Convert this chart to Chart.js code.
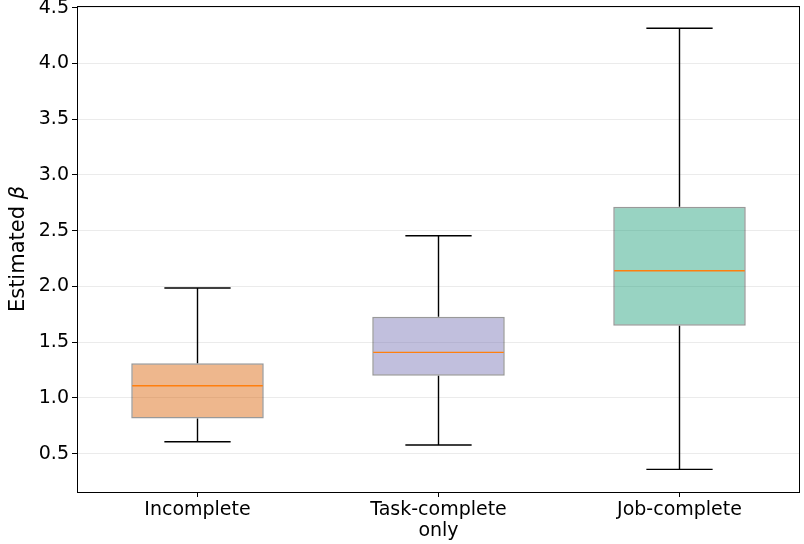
<!DOCTYPE html>
<html>
<head>
<meta charset="utf-8">
<script src="https://cdn.jsdelivr.net/npm/chart.js@4.4.1/dist/chart.umd.min.js"></script>
<style>
  html, body { margin: 0; padding: 0; background: #fff; }
  #wrap { width: 804px; height: 544px; }
</style>
</head>
<body>
<div id="wrap"><canvas id="boxChart" width="804" height="544"></canvas></div>
<script>
// groups and box statistics for estimated beta
const groups = [["Incomplete"], ["Task-complete", "only"], ["Job-complete"]];
const whiskerLow = [0.607, 0.578, 0.36];
const q1 = [0.817, 1.199, 1.648];
const median = [1.11, 1.409, 2.141];
const q3 = [1.311, 1.728, 2.715];
const whiskerHigh = [1.986, 2.455, 4.315];
const yTicks = [0.5, 1.0, 1.5, 2.0, 2.5, 3.0, 3.5, 4.0, 4.5];

const boxColors = ["rgba(217,95,2,0.45)", "rgba(117,112,179,0.45)", "rgba(27,158,119,0.45)"];

// whiskers, caps, medians, the frame and the y title with an italic beta
const boxExtras = {
  id: "boxExtras",
  afterDatasetsDraw(chart) {
    const ctx = chart.ctx;
    const x = chart.scales.x;
    const y = chart.scales.y;
    const bars = chart.getDatasetMeta(0).data;
    ctx.save();
    bars.forEach((bar, i) => {
      const cx = x.getPixelForValue(i);
      const half = bar.width / 2;
      const cap = bar.width / 4;
      ctx.strokeStyle = "#000";
      ctx.lineWidth = 1.4;
      ctx.beginPath();
      ctx.moveTo(cx, y.getPixelForValue(whiskerLow[i]));
      ctx.lineTo(cx, y.getPixelForValue(q1[i]));
      ctx.moveTo(cx, y.getPixelForValue(q3[i]));
      ctx.lineTo(cx, y.getPixelForValue(whiskerHigh[i]));
      ctx.moveTo(cx - cap, y.getPixelForValue(whiskerLow[i]));
      ctx.lineTo(cx + cap, y.getPixelForValue(whiskerLow[i]));
      ctx.moveTo(cx - cap, y.getPixelForValue(whiskerHigh[i]));
      ctx.lineTo(cx + cap, y.getPixelForValue(whiskerHigh[i]));
      ctx.stroke();
      ctx.strokeStyle = "#ff7f0e";
      ctx.lineWidth = 1.4;
      ctx.beginPath();
      ctx.moveTo(cx - half + 1, y.getPixelForValue(median[i]));
      ctx.lineTo(cx + half - 1, y.getPixelForValue(median[i]));
      ctx.stroke();
    });
    const a = chart.chartArea;
    ctx.strokeStyle = "#000";
    ctx.lineWidth = 1;
    ctx.strokeRect(a.left + 0.5, a.top + 0.5, a.right - a.left - 1, a.bottom - a.top);

    // y axis title
    const word = "Estimated ";
    const sym = "β";
    ctx.fillStyle = "#000";
    ctx.textBaseline = "middle";
    ctx.textAlign = "left";
    ctx.font = "21px 'DejaVu Sans'";
    const w1 = ctx.measureText(word).width;
    ctx.font = "italic 21px 'DejaVu Sans'";
    const w2 = ctx.measureText(sym).width;
    ctx.translate(19, (a.top + a.bottom) / 2);
    ctx.rotate(-Math.PI / 2);
    const start = -(w1 + w2) / 2;
    ctx.font = "21px 'DejaVu Sans'";
    ctx.fillText(word, start, 0);
    ctx.font = "italic 21px 'DejaVu Sans'";
    ctx.fillText(sym, start + w1, 0);
    ctx.restore();
  }
};

const ctx = document.getElementById("boxChart");
new Chart(ctx, {
  type: "bar",
  data: {
    labels: groups,
    datasets: [{
      data: groups.map((g, i) => [q1[i], q3[i]]),
      backgroundColor: boxColors,
      borderColor: "rgba(0,0,0,0.4)",
      borderWidth: 1.5,
      borderSkipped: false,
      barPercentage: 0.55,
      categoryPercentage: 1
    }]
  },
  options: {
    responsive: false,
    animation: false,
    layout: { padding: { left: 0, right: 4, top: 6, bottom: 0 } },
    plugins: { legend: { display: false }, tooltip: { enabled: false } },
    scales: {
      x: {
        offset: true,
        grid: { display: true, offset: false, drawOnChartArea: false, tickLength: 5, tickColor: "#000" },
        border: { display: false },
        ticks: { color: "#000", padding: 2, font: { family: "DejaVu Sans", size: 19, lineHeight: 1.12 } },
        afterFit: (s) => { s.height = 52; s.paddingLeft = 0; s.paddingRight = 0; }
      },
      y: {
        min: 0.157,
        max: 4.515,
        afterBuildTicks: (s) => { s.ticks = yTicks.map(v => ({ value: v })); },
        grid: { color: "rgba(0,0,0,0.08)", tickLength: 5, tickColor: "#000" },
        border: { display: false },
        ticks: { color: "#000", padding: 3, font: { family: "DejaVu Sans", size: 19 }, callback: (v) => v.toFixed(1) },
        afterFit: (s) => { s.width = 77; s.paddingTop = 0; s.paddingBottom = 0; }
      }
    }
  },
  plugins: [boxExtras]
});
</script>
</body>
</html>
